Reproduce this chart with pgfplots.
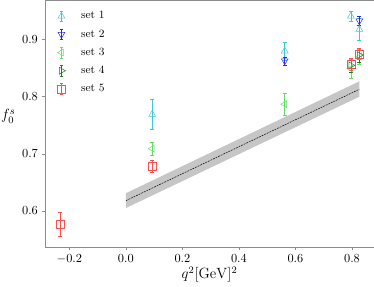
\documentclass[border=0pt]{standalone}
\usepackage{pgfplots}
\pgfplotsset{compat=1.18}
\usepgfplotslibrary{fillbetween}
\definecolor{cset1}{RGB}{64,200,210}
\definecolor{cset2}{RGB}{40,40,230}
\definecolor{cset3}{RGB}{100,220,100}
\definecolor{cset4}{RGB}{30,120,30}
\definecolor{cset5}{RGB}{250,80,80}
\definecolor{axgray}{RGB}{140,140,140}
\pgfplotsset{
  errleg/.style={legend image code/.code={
    \draw[mark=none,solid] (0cm,-0.15cm) -- (0cm,0.15cm);
    \draw[mark=none,solid] (-0.05cm,-0.15cm) -- (0.05cm,-0.15cm);
    \draw[mark=none,solid] (-0.05cm,0.15cm) -- (0.05cm,0.15cm);
    \draw[only marks] plot coordinates {(0cm,0cm)};
    \path (0.48cm,0cm);
  }},
  eb/.style={only marks, mark size=3.2pt, thin,
    error bars/y dir=both, error bars/y explicit,
    error bars/error bar style={thin},
    error bars/error mark options={rotate=90, mark size=1.6pt, thin}},
}
\begin{document}
\begin{tikzpicture}
\begin{axis}[
  scale only axis,
  width=266pt, height=200pt,
  xmin=-0.285, xmax=0.877,
  ymin=0.5365, ymax=0.969,
  xtick={-0.2,0,0.2,0.4,0.6,0.8},
  ytick={0.6,0.7,0.8,0.9},
  xticklabel style={/pgf/number format/fixed,/pgf/number format/fixed zerofill,/pgf/number format/precision=1},
  yticklabel style={/pgf/number format/fixed,/pgf/number format/fixed zerofill,/pgf/number format/precision=1},
  tick align=outside, major tick length=2.5pt,
  tick style={axgray, thin},
  axis line style={axgray},
  xtick pos=bottom, ytick pos=left,
  xlabel={\large $q^2[\mathrm{GeV}]^2$},
  ylabel={\large $f_0^s$},
  ylabel style={rotate=-90, at={(rel axis cs:0,0.53)}, anchor=east, inner sep=1pt, xshift=-23pt},
  xlabel style={yshift=4pt},
  legend style={draw=none, fill=none, at={(0.025,0.975)}, anchor=north west, font=\small, row sep=3.2pt},
  legend cell align=left,
]
\addplot[name path=up, draw=none, forget plot] coordinates {(0,0.631) (0.826,0.827)};
\addplot[name path=lo, draw=none, forget plot] coordinates {(0,0.605) (0.826,0.800)};
\addplot[gray!45, forget plot] fill between[of=up and lo];
\addplot[black, thin, dash pattern=on 1.5pt off 0.8pt, forget plot] coordinates {(0,0.618) (0.826,0.813)};

\addplot[eb, cset1, mark=triangle, errleg] coordinates {
 (0.093,0.769) +- (0,0.026)
 (0.562,0.880) +- (0,0.016)
 (0.796,0.941) +- (0,0.008)
 (0.826,0.918) +- (0,0.019)
};
\addlegendentry{set 1}
\addplot[eb, cset2, mark=triangle, mark options={rotate=180}, errleg] coordinates {
 (0.562,0.863) +- (0,0.007)
 (0.826,0.933) +- (0,0.008)
};
\addlegendentry{set 2}
\addplot[eb, cset3, mark=triangle, mark options={rotate=90}, errleg] coordinates {
 (0.093,0.709) +- (0,0.012)
 (0.562,0.787) +- (0,0.019)
 (0.796,0.849) +- (0,0.017)
 (0.826,0.870) +- (0,0.013)
};
\addlegendentry{set 3}
\addplot[eb, cset4, mark=triangle, mark options={rotate=-90}, errleg] coordinates {
 (0.796,0.855) +- (0,0.012)
 (0.826,0.873) +- (0,0.012)
};
\addlegendentry{set 4}
\addplot[eb, cset5, mark=square, errleg] coordinates {
 (-0.233,0.576) +- (0,0.021)
 (0.093,0.678) +- (0,0.011)
 (0.796,0.857) +- (0,0.011)
 (0.826,0.875) +- (0,0.010)
};
\addlegendentry{set 5}
\end{axis}
\end{tikzpicture}
\end{document}
